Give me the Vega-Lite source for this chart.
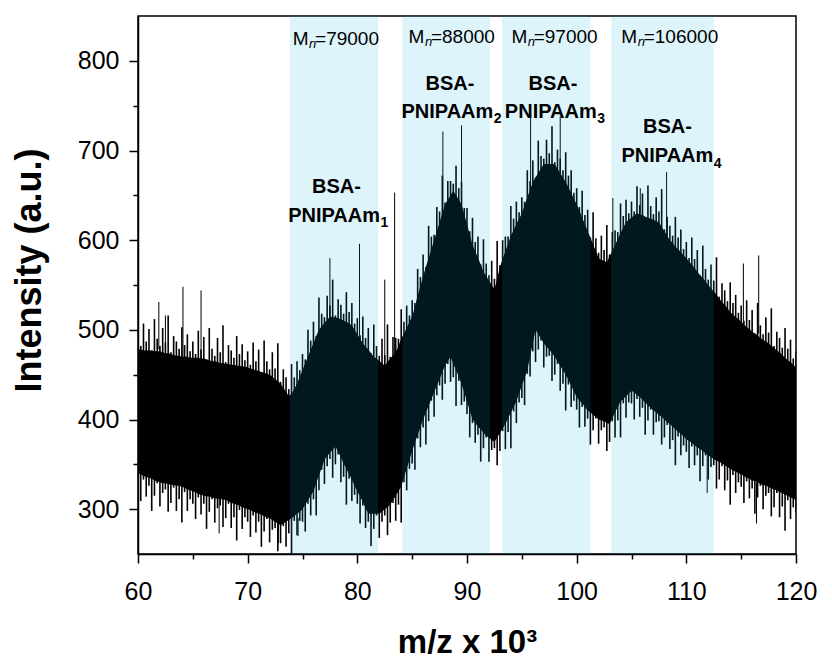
{
  "$schema": "https://vega.github.io/schema/vega-lite/v6.json",
  "width": 658,
  "height": 538,
  "autosize": {"type": "none"},
  "padding": {"left": 138, "top": 16, "right": 36, "bottom": 104},
  "background": "white",
  "config": {"view": {"stroke": "black", "strokeWidth": 1.5}, "font": "Liberation Sans"},
  "datasets": {
    "spec": [
      {"x":60,"y":496,"lo":326,"uc":478,"lc":340},{"x":60.25,"y":482,"lo":309,"uc":478,"lc":339},{"x":60.5,"y":507,"lo":333,"uc":477,"lc":337},{"x":60.75,"y":487,"lo":314,"uc":477,"lc":336},
      {"x":61,"y":501,"lo":326,"uc":477,"lc":335},{"x":61.25,"y":477,"lo":298,"uc":477,"lc":334},{"x":61.5,"y":512,"lo":315,"uc":476,"lc":332},{"x":61.75,"y":490,"lo":329,"uc":476,"lc":331},
      {"x":62,"y":482,"lo":303,"uc":476,"lc":330},{"x":62.25,"y":502,"lo":318,"uc":475,"lc":329},{"x":62.5,"y":486,"lo":322,"uc":474,"lc":329},{"x":62.75,"y":516,"lo":297,"uc":474,"lc":328},
      {"x":63,"y":475,"lo":307,"uc":473,"lc":327},{"x":63.25,"y":493,"lo":324,"uc":472,"lc":327},{"x":63.5,"y":487,"lo":298,"uc":471,"lc":326},{"x":63.75,"y":479,"lo":311,"uc":471,"lc":326},
      {"x":64,"y":503,"lo":285,"uc":470,"lc":325},{"x":64.25,"y":483,"lo":319,"uc":470,"lc":324},{"x":64.5,"y":495,"lo":298,"uc":470,"lc":322},{"x":64.75,"y":476,"lo":311,"uc":469,"lc":321},
      {"x":65,"y":487,"lo":306,"uc":469,"lc":320},{"x":65.25,"y":473,"lo":289,"uc":469,"lc":319},{"x":65.5,"y":499,"lo":313,"uc":469,"lc":317},{"x":65.75,"y":478,"lo":294,"uc":468,"lc":316},
      {"x":66,"y":492,"lo":306,"uc":468,"lc":315},{"x":66.25,"y":467,"lo":278,"uc":467,"lc":314},{"x":66.5,"y":502,"lo":297,"uc":466,"lc":314},{"x":66.75,"y":479,"lo":311,"uc":465,"lc":313},
      {"x":67,"y":471,"lo":285,"uc":465,"lc":312},{"x":67.25,"y":491,"lo":301,"uc":464,"lc":312},{"x":67.5,"y":475,"lo":304,"uc":463,"lc":311},{"x":67.75,"y":505,"lo":280,"uc":463,"lc":311},
      {"x":68,"y":464,"lo":290,"uc":462,"lc":310},{"x":68.25,"y":483,"lo":306,"uc":462,"lc":309},{"x":68.5,"y":477,"lo":279,"uc":461,"lc":307},{"x":68.75,"y":469,"lo":291,"uc":461,"lc":306},
      {"x":69,"y":493,"lo":265,"uc":460,"lc":305},{"x":69.25,"y":473,"lo":299,"uc":460,"lc":304},{"x":69.5,"y":484,"lo":278,"uc":459,"lc":302},{"x":69.75,"y":466,"lo":291,"uc":459,"lc":301},
      {"x":70,"y":476,"lo":286,"uc":458,"lc":300},{"x":70.25,"y":461,"lo":269,"uc":457,"lc":299},{"x":70.5,"y":486,"lo":293,"uc":456,"lc":297},{"x":70.75,"y":465,"lo":274,"uc":455,"lc":296},
      {"x":71,"y":478,"lo":286,"uc":454,"lc":295},{"x":71.25,"y":453,"lo":258,"uc":453,"lc":294},{"x":71.5,"y":488,"lo":275,"uc":452,"lc":292},{"x":71.75,"y":465,"lo":289,"uc":451,"lc":291},
      {"x":72,"y":456,"lo":263,"uc":450,"lc":290},{"x":72.25,"y":475,"lo":277,"uc":448,"lc":288},{"x":72.5,"y":457,"lo":279,"uc":445,"lc":286},{"x":72.75,"y":485,"lo":253,"uc":443,"lc":284},
      {"x":73,"y":442,"lo":262,"uc":440,"lc":282},{"x":73.25,"y":456,"lo":281,"uc":435,"lc":284},{"x":73.5,"y":447,"lo":258,"uc":431,"lc":286},{"x":73.75,"y":434,"lo":273,"uc":426,"lc":288},
      {"x":74,"y":462,"lo":250,"uc":429,"lc":290},{"x":74.25,"y":447,"lo":287,"uc":434,"lc":292},{"x":74.5,"y":465,"lo":271,"uc":440,"lc":295},{"x":74.75,"y":455,"lo":287,"uc":448,"lc":297},
      {"x":75,"y":473,"lo":286,"uc":455,"lc":300},{"x":75.25,"y":467,"lo":275,"uc":463,"lc":305},{"x":75.5,"y":500,"lo":306,"uc":470,"lc":310},{"x":75.75,"y":488,"lo":293,"uc":478,"lc":315},
      {"x":76,"y":509,"lo":311,"uc":485,"lc":320},{"x":76.25,"y":493,"lo":293,"uc":493,"lc":329},{"x":76.5,"y":536,"lo":321,"uc":500,"lc":338},{"x":76.75,"y":518,"lo":344,"uc":504,"lc":346},
      {"x":77,"y":514,"lo":328,"uc":508,"lc":355},{"x":77.25,"y":538,"lo":348,"uc":511,"lc":359},{"x":77.5,"y":527,"lo":356,"uc":515,"lc":363},{"x":77.75,"y":556,"lo":335,"uc":514,"lc":366},
      {"x":78,"y":516,"lo":350,"uc":514,"lc":370},{"x":78.25,"y":534,"lo":361,"uc":513,"lc":364},{"x":78.5,"y":528,"lo":330,"uc":512,"lc":358},{"x":78.75,"y":518,"lo":336,"uc":510,"lc":351},
      {"x":79,"y":542,"lo":305,"uc":509,"lc":345},{"x":79.25,"y":520,"lo":334,"uc":507,"lc":339},{"x":79.5,"y":530,"lo":309,"uc":505,"lc":333},{"x":79.75,"y":507,"lo":316,"uc":500,"lc":326},
      {"x":80,"y":513,"lo":306,"uc":495,"lc":320},{"x":80.25,"y":494,"lo":284,"uc":490,"lc":314},{"x":80.5,"y":515,"lo":304,"uc":485,"lc":308},{"x":80.75,"y":491,"lo":279,"uc":481,"lc":301},
      {"x":81,"y":502,"lo":286,"uc":478,"lc":295},{"x":81.25,"y":474,"lo":259,"uc":474,"lc":295},{"x":81.5,"y":506,"lo":278,"uc":470,"lc":295},{"x":81.75,"y":482,"lo":293,"uc":468,"lc":295},
      {"x":82,"y":471,"lo":268,"uc":465,"lc":295},{"x":82.25,"y":490,"lo":286,"uc":463,"lc":297},{"x":82.5,"y":472,"lo":293,"uc":460,"lc":300},{"x":82.75,"y":506,"lo":271,"uc":464,"lc":302},
      {"x":83,"y":470,"lo":285,"uc":468,"lc":305},{"x":83.25,"y":492,"lo":307,"uc":471,"lc":310},{"x":83.5,"y":491,"lo":287,"uc":475,"lc":315},{"x":83.75,"y":490,"lo":305,"uc":482,"lc":320},
      {"x":84,"y":523,"lo":285,"uc":490,"lc":325},{"x":84.25,"y":509,"lo":330,"uc":496,"lc":335},{"x":84.5,"y":527,"lo":321,"uc":502,"lc":345},{"x":84.75,"y":516,"lo":345,"uc":509,"lc":355},
      {"x":85,"y":533,"lo":351,"uc":515,"lc":365},{"x":85.25,"y":530,"lo":344,"uc":526,"lc":374},{"x":85.5,"y":568,"lo":379,"uc":538,"lc":383},{"x":85.75,"y":559,"lo":369,"uc":549,"lc":391},
      {"x":86,"y":584,"lo":391,"uc":560,"lc":400},{"x":86.25,"y":570,"lo":372,"uc":570,"lc":408},{"x":86.5,"y":616,"lo":398,"uc":580,"lc":415},{"x":86.75,"y":604,"lo":421,"uc":590,"lc":423},
      {"x":87,"y":606,"lo":403,"uc":600,"lc":430},{"x":87.25,"y":637,"lo":427,"uc":610,"lc":438},{"x":87.5,"y":632,"lo":438,"uc":620,"lc":445},{"x":87.75,"y":672,"lo":422,"uc":630,"lc":453},
      {"x":88,"y":642,"lo":440,"uc":640,"lc":460},{"x":88.25,"y":666,"lo":462,"uc":645,"lc":465},{"x":88.5,"y":666,"lo":442,"uc":650,"lc":470},{"x":88.75,"y":663,"lo":447,"uc":655,"lc":462},
      {"x":89,"y":683,"lo":415,"uc":650,"lc":455},{"x":89.25,"y":658,"lo":443,"uc":645,"lc":448},{"x":89.5,"y":665,"lo":416,"uc":640,"lc":440},{"x":89.75,"y":636,"lo":420,"uc":629,"lc":430},
      {"x":90,"y":636,"lo":406,"uc":618,"lc":420},{"x":90.25,"y":610,"lo":380,"uc":606,"lc":410},{"x":90.5,"y":625,"lo":396,"uc":595,"lc":400},{"x":90.75,"y":598,"lo":374,"uc":588,"lc":396},
      {"x":91,"y":604,"lo":383,"uc":580,"lc":392},{"x":91.25,"y":573,"lo":353,"uc":573,"lc":389},{"x":91.5,"y":601,"lo":368,"uc":565,"lc":385},{"x":91.75,"y":574,"lo":380,"uc":560,"lc":382},
      {"x":92,"y":561,"lo":353,"uc":555,"lc":380},{"x":92.25,"y":577,"lo":366,"uc":550,"lc":377},{"x":92.5,"y":557,"lo":368,"uc":545,"lc":375},{"x":92.75,"y":599,"lo":349,"uc":557,"lc":380},
      {"x":93,"y":572,"lo":365,"uc":570,"lc":385},{"x":93.25,"y":600,"lo":387,"uc":579,"lc":390},{"x":93.5,"y":604,"lo":367,"uc":588,"lc":395},{"x":93.75,"y":604,"lo":386,"uc":596,"lc":401},
      {"x":94,"y":638,"lo":368,"uc":605,"lc":408},{"x":94.25,"y":624,"lo":409,"uc":611,"lc":414},{"x":94.5,"y":643,"lo":396,"uc":618,"lc":420},{"x":94.75,"y":631,"lo":419,"uc":624,"lc":429},
      {"x":95,"y":648,"lo":424,"uc":630,"lc":438},{"x":95.25,"y":643,"lo":416,"uc":639,"lc":446},{"x":95.5,"y":678,"lo":451,"uc":648,"lc":455},{"x":95.75,"y":666,"lo":448,"uc":656,"lc":470},
      {"x":96,"y":689,"lo":476,"uc":665,"lc":485},{"x":96.25,"y":670,"lo":464,"uc":670,"lc":500},{"x":96.5,"y":711,"lo":478,"uc":675,"lc":495},{"x":96.75,"y":694,"lo":488,"uc":680,"lc":490},
      {"x":97,"y":691,"lo":458,"uc":685,"lc":485},{"x":97.25,"y":712,"lo":470,"uc":685,"lc":481},{"x":97.5,"y":697,"lo":471,"uc":685,"lc":478},{"x":97.75,"y":727,"lo":443,"uc":685,"lc":474},
      {"x":98,"y":687,"lo":450,"uc":685,"lc":470},{"x":98.25,"y":701,"lo":462,"uc":680,"lc":465},{"x":98.5,"y":691,"lo":432,"uc":675,"lc":460},{"x":98.75,"y":678,"lo":440,"uc":670,"lc":455},
      {"x":99,"y":698,"lo":410,"uc":665,"lc":450},{"x":99.25,"y":672,"lo":439,"uc":659,"lc":444},{"x":99.5,"y":678,"lo":414,"uc":653,"lc":438},{"x":99.75,"y":653,"lo":421,"uc":646,"lc":431},
      {"x":100,"y":658,"lo":411,"uc":640,"lc":425},{"x":100.25,"y":637,"lo":391,"uc":633,"lc":421},{"x":100.5,"y":655,"lo":414,"uc":625,"lc":418},{"x":100.75,"y":628,"lo":392,"uc":618,"lc":414},
      {"x":101,"y":634,"lo":401,"uc":610,"lc":410},{"x":101.25,"y":603,"lo":372,"uc":603,"lc":408},{"x":101.5,"y":631,"lo":388,"uc":595,"lc":405},{"x":101.75,"y":602,"lo":401,"uc":588,"lc":403},
      {"x":102,"y":586,"lo":373,"uc":580,"lc":400},{"x":102.25,"y":605,"lo":388,"uc":578,"lc":399},{"x":102.5,"y":589,"lo":391,"uc":577,"lc":398},{"x":102.75,"y":617,"lo":365,"uc":575,"lc":396},
      {"x":103,"y":584,"lo":375,"uc":582,"lc":395},{"x":103.25,"y":609,"lo":398,"uc":588,"lc":401},{"x":103.5,"y":611,"lo":380,"uc":595,"lc":408},{"x":103.75,"y":609,"lo":399,"uc":601,"lc":414},
      {"x":104,"y":641,"lo":380,"uc":608,"lc":420},{"x":104.25,"y":627,"lo":418,"uc":614,"lc":423},{"x":104.5,"y":645,"lo":402,"uc":620,"lc":426},{"x":104.75,"y":630,"lo":419,"uc":623,"lc":429},
      {"x":105,"y":643,"lo":418,"uc":625,"lc":432},{"x":105.25,"y":632,"lo":400,"uc":628,"lc":430},{"x":105.5,"y":660,"lo":423,"uc":630,"lc":427},{"x":105.75,"y":639,"lo":403,"uc":629,"lc":425},
      {"x":106,"y":652,"lo":413,"uc":628,"lc":422},{"x":106.25,"y":626,"lo":383,"uc":626,"lc":419},{"x":106.5,"y":661,"lo":399,"uc":625,"lc":416},{"x":106.75,"y":638,"lo":411,"uc":624,"lc":413},
      {"x":107,"y":629,"lo":383,"uc":623,"lc":410},{"x":107.25,"y":648,"lo":397,"uc":621,"lc":408},{"x":107.5,"y":632,"lo":398,"uc":620,"lc":405},{"x":107.75,"y":657,"lo":372,"uc":615,"lc":403},
      {"x":108,"y":612,"lo":380,"uc":610,"lc":400},{"x":108.25,"y":626,"lo":394,"uc":605,"lc":397},{"x":108.5,"y":616,"lo":367,"uc":600,"lc":395},{"x":108.75,"y":605,"lo":377,"uc":597,"lc":392},
      {"x":109,"y":626,"lo":349,"uc":593,"lc":389},{"x":109.25,"y":603,"lo":381,"uc":590,"lc":386},{"x":109.5,"y":612,"lo":360,"uc":587,"lc":384},{"x":109.75,"y":590,"lo":371,"uc":583,"lc":381},
      {"x":110,"y":598,"lo":364,"uc":580,"lc":378},{"x":110.25,"y":580,"lo":346,"uc":576,"lc":376},{"x":110.5,"y":603,"lo":370,"uc":573,"lc":374},{"x":110.75,"y":579,"lo":349,"uc":569,"lc":371},
      {"x":111,"y":589,"lo":360,"uc":565,"lc":369},{"x":111.25,"y":561,"lo":331,"uc":561,"lc":367},{"x":111.5,"y":594,"lo":348,"uc":558,"lc":365},{"x":111.75,"y":568,"lo":360,"uc":554,"lc":362},
      {"x":112,"y":556,"lo":333,"uc":550,"lc":360},{"x":112.25,"y":573,"lo":347,"uc":546,"lc":358},{"x":112.5,"y":555,"lo":349,"uc":543,"lc":356},{"x":112.75,"y":581,"lo":323,"uc":539,"lc":354},
      {"x":113,"y":537,"lo":333,"uc":535,"lc":353},{"x":113.25,"y":552,"lo":348,"uc":531,"lc":351},{"x":113.5,"y":544,"lo":321,"uc":528,"lc":349},{"x":113.75,"y":532,"lo":332,"uc":524,"lc":347},
      {"x":114,"y":553,"lo":305,"uc":520,"lc":345},{"x":114.25,"y":530,"lo":338,"uc":517,"lc":343},{"x":114.5,"y":539,"lo":318,"uc":514,"lc":342},{"x":114.75,"y":519,"lo":330,"uc":512,"lc":340},
      {"x":115,"y":527,"lo":325,"uc":509,"lc":339},{"x":115.25,"y":510,"lo":307,"uc":506,"lc":337},{"x":115.5,"y":533,"lo":331,"uc":503,"lc":335},{"x":115.75,"y":511,"lo":312,"uc":501,"lc":334},
      {"x":116,"y":522,"lo":323,"uc":498,"lc":332},{"x":116.25,"y":496,"lo":295,"uc":496,"lc":331},{"x":116.5,"y":530,"lo":313,"uc":494,"lc":330},{"x":116.75,"y":505,"lo":326,"uc":491,"lc":328},
      {"x":117,"y":495,"lo":300,"uc":489,"lc":327},{"x":117.25,"y":514,"lo":315,"uc":487,"lc":326},{"x":117.5,"y":497,"lo":318,"uc":485,"lc":325},{"x":117.75,"y":524,"lo":292,"uc":482,"lc":323},
      {"x":118,"y":482,"lo":302,"uc":480,"lc":322},{"x":118.25,"y":498,"lo":318,"uc":477,"lc":321},{"x":118.5,"y":491,"lo":291,"uc":475,"lc":319},{"x":118.75,"y":480,"lo":303,"uc":472,"lc":318},
      {"x":119,"y":502,"lo":276,"uc":469,"lc":316},{"x":119.25,"y":479,"lo":310,"uc":466,"lc":315},{"x":119.5,"y":489,"lo":289,"uc":464,"lc":313},{"x":119.75,"y":468,"lo":302,"uc":461,"lc":312},
      {"x":120,"y":476,"lo":296,"uc":458,"lc":310}
    ],
    "spikes": [
      {"x":61.9,"y0":478,"y":531},{"x":62.5,"y0":476,"y":516},{"x":64.1,"y0":470,"y":548},{"x":65.75,"y0":468,"y":544},
      {"x":77.5,"y0":515,"y":580},{"x":80.2,"y0":490,"y":596},{"x":82.5,"y0":460,"y":556},{"x":83.4,"y0":472,"y":653},
      {"x":87.8,"y0":630,"y":721},{"x":89.5,"y0":640,"y":728},{"x":95.8,"y0":656,"y":740},{"x":98.5,"y0":675,"y":738},
      {"x":103.3,"y0":588,"y":647},{"x":105.8,"y0":629,"y":658},{"x":108.2,"y0":605,"y":676},{"x":115.2,"y0":506,"y":574},
      {"x":116.6,"y0":496,"y":583},
      {"x":67.4,"y0":312,"y":273},{"x":72.8,"y0":284,"y":262},{"x":74.6,"y0":290,"y":270},{"x":111.9,"y0":367,"y":318},
      {"x":116.4,"y0":330,"y":284}
    ],
    "bands": [
      {"x":73.85,"x2":81.9,"y":250,"y2":850},
      {"x":84.1,"x2":92.1,"y":250,"y2":850},
      {"x":93.2,"x2":101.25,"y":250,"y2":850},
      {"x":103.15,"x2":112.5,"y":250,"y2":850}
    ],
    "mlab": [
      {"x":75.55,"y":818,"v":"=79000"},
      {"x":86.12,"y":820,"v":"=88000"},
      {"x":95.49,"y":820,"v":"=97000"},
      {"x":105.52,"y":820,"v":"=106000"}
    ],
    "blab": [
      {"x":78.1,"y":652.6},
      {"x":88.45,"y":767.5},
      {"x":97.84,"y":767.5},
      {"x":108.28,"y":719.2}
    ],
    "plab": [
      {"x":82.07,"y":620.3,"s":"1"},
      {"x":92.4,"y":736.3,"s":"2"},
      {"x":101.83,"y":736.3,"s":"3"},
      {"x":112.46,"y":686.8,"s":"4"}
    ]
  },
  "encoding": {
    "x": {
      "field": "x", "type": "quantitative",
      "scale": {"domain": [60, 120], "nice": false, "zero": false},
      "axis": {
        "values": [60,65,70,75,80,85,90,95,100,105,110,115,120],
        "labelExpr": "datum.value % 10 === 0 ? datum.label : ''",
        "labelFlush": false,
        "title": "m/z x 10³",
        "grid": false,
        "domainColor": "black", "domainWidth": 1.5,
        "tickColor": "black", "tickWidth": 1.5,
        "tickSize": {"condition": {"test": "datum.value % 10 === 0", "value": 9}, "value": 5},
        "labelFont": "Liberation Sans", "labelFontSize": 25, "labelColor": "black", "labelPadding": 16,
        "titleFont": "Liberation Sans", "titleFontSize": 33, "titleFontWeight": "bold", "titleColor": "black", "titlePadding": 22
      }
    },
    "y": {
      "field": "y", "type": "quantitative",
      "scale": {"domain": [250, 850], "nice": false, "zero": false},
      "axis": {
        "values": [300,350,400,450,500,550,600,650,700,750,800],
        "labelExpr": "datum.value % 100 === 0 ? datum.label : ''",
        "labelFlush": false,
        "title": "Intensity (a.u.)",
        "titleY": 254,
        "grid": false,
        "domainColor": "black", "domainWidth": 1.5,
        "tickColor": "black", "tickWidth": 1.5,
        "tickSize": {"condition": {"test": "datum.value % 100 === 0", "value": 9}, "value": 5},
        "labelFont": "Liberation Sans", "labelFontSize": 25, "labelColor": "black", "labelPadding": 10,
        "titleFont": "Liberation Sans", "titleFontSize": 36, "titleFontWeight": "bold", "titleColor": "black", "titlePadding": 29
      }
    }
  },
  "layer": [
    {
      "data": {"name": "spec"},
      "mark": {"type": "rule", "color": "black", "strokeWidth": 1.6, "clip": true},
      "encoding": {"y2": {"field": "lo"}}
    },
    {
      "data": {"name": "spec"},
      "mark": {"type": "area", "color": "black", "interpolate": "linear", "clip": true},
      "encoding": {
        "y": {
          "field": "uc", "type": "quantitative",
          "scale": {"domain": [250, 850], "nice": false, "zero": false},
          "axis": {
            "values": [300,350,400,450,500,550,600,650,700,750,800],
            "labelExpr": "datum.value % 100 === 0 ? datum.label : ''",
            "labelFlush": false,
            "title": "Intensity (a.u.)",
            "titleY": 254,
            "grid": false,
            "domainColor": "black", "domainWidth": 1.5,
            "tickColor": "black", "tickWidth": 1.5,
            "tickSize": {"condition": {"test": "datum.value % 100 === 0", "value": 9}, "value": 5},
            "labelFont": "Liberation Sans", "labelFontSize": 25, "labelColor": "black", "labelPadding": 10,
            "titleFont": "Liberation Sans", "titleFontSize": 36, "titleFontWeight": "bold", "titleColor": "black", "titlePadding": 29
          }
        },
        "y2": {"field": "lc"}
      }
    },
    {
      "data": {"name": "spikes"},
      "mark": {"type": "rule", "color": "black", "strokeWidth": 1, "clip": true},
      "encoding": {"y2": {"field": "y0"}}
    },
    {
      "data": {"name": "bands"},
      "mark": {"type": "rect", "fill": "#0fafe2", "fillOpacity": 0.137, "stroke": null},
      "encoding": {"x2": {"field": "x2"}, "y2": {"field": "y2"}}
    },
    {
      "data": {"name": "mlab"},
      "mark": {"type": "text", "text": "M", "align": "right", "baseline": "alphabetic", "font": "Liberation Sans", "fontSize": 19, "color": "black"}
    },
    {
      "data": {"name": "mlab"},
      "mark": {"type": "text", "text": "n", "align": "left", "baseline": "alphabetic", "dx": 0.5, "dy": 3, "font": "Liberation Sans", "fontStyle": "italic", "fontSize": 13, "color": "black"}
    },
    {
      "data": {"name": "mlab"},
      "mark": {"type": "text", "align": "left", "baseline": "alphabetic", "dx": 6.5, "font": "Liberation Sans", "fontSize": 19, "color": "black"},
      "encoding": {"text": {"field": "v"}}
    },
    {
      "data": {"name": "blab"},
      "mark": {"type": "text", "text": "BSA-", "align": "center", "baseline": "alphabetic", "font": "Liberation Sans", "fontWeight": "bold", "fontSize": 20, "color": "black"}
    },
    {
      "data": {"name": "plab"},
      "mark": {"type": "text", "text": "PNIPAAm", "align": "right", "baseline": "alphabetic", "font": "Liberation Sans", "fontWeight": "bold", "fontSize": 20, "color": "black"}
    },
    {
      "data": {"name": "plab"},
      "mark": {"type": "text", "align": "left", "baseline": "alphabetic", "dx": 0.5, "dy": 5.5, "font": "Liberation Sans", "fontWeight": "bold", "fontSize": 14, "color": "black"},
      "encoding": {"text": {"field": "s"}}
    }
  ]
}
